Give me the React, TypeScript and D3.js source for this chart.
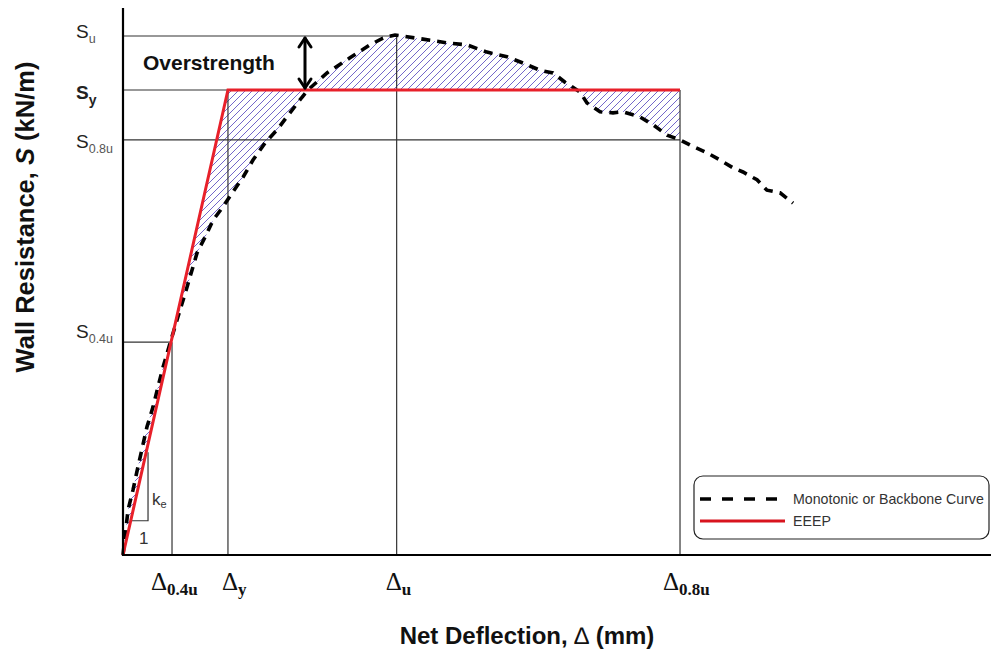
import React from "react";
import * as d3 from "d3";

// ---- data (Δ in mm, S in kN/m) ----
const curveDelta = [0, 0.58, 1.15, 1.73, 2.77, 3.46, 4.04, 4.62, 5.43, 6.35, 7.39, 8.55, 9.7, 10.39, 11.55, 12.59, 13.86, 15.01, 16.4, 17.78, 19.28, 20.67, 21.36, 23.56, 26.21, 28.52, 30.02, 31.41, 34.64, 37.76, 39.72, 42.03, 44.34, 46.19, 48.15, 49.65, 51.04, 52.77, 53.58, 55.08, 56.58, 57.74, 59.7, 61.2, 62.82, 64.32, 65.47, 67.44, 68.94, 70.44, 71.59, 73.21, 74.36, 75.87, 77.37];
const curveS = [0, 0.87, 1.25, 1.7, 2.47, 2.85, 3.24, 3.62, 4.08, 4.59, 5.16, 5.82, 6.2, 6.45, 6.71, 6.97, 7.28, 7.61, 7.94, 8.19, 8.52, 8.82, 8.96, 9.29, 9.58, 9.83, 9.96, 10.02, 9.94, 9.86, 9.83, 9.69, 9.6, 9.48, 9.34, 9.29, 9.11, 8.92, 8.71, 8.54, 8.52, 8.54, 8.44, 8.29, 8.09, 8.0, 7.9, 7.75, 7.61, 7.46, 7.38, 7.23, 7.03, 6.98, 6.78];

const levelNames = ["u", "y", "0.8u", "0.4u"];
const levelS = [10.0, 8.96, 8.0, 4.1];
const levelDelta = [31.6, 12.12, 64.32, 5.66];

const deltaTickLabels = ["0.4u", "y", "u", "0.8u"];
const deltaTickValues = [5.66, 12.12, 31.6, 64.32];

const eeepDelta = [0, 12.12, 64.32];
const eeepS = [0, 8.96, 8.96];

const keTriDelta = [1.04, 2.89];
const keTriS = [0.66, 1.98];

const legendLabels = ["Monotonic or Backbone Curve", "EEEP"];

const W = 991;
const H = 652;

export default function App() {
  const x = d3.scaleLinear().domain([0, 100]).range([123, 989]);
  const y = d3.scaleLinear().domain([0, 10.54]).range([555, 8]);

  const curvePts: [number, number][] = curveDelta.map((d, i) => [d, curveS[i]]);
  const eeepPts: [number, number][] = eeepDelta.map((d, i) => [d, eeepS[i]]);
  const line = d3
    .line<[number, number]>()
    .x((d) => x(d[0]))
    .y((d) => y(d[1]));

  const dEnd = levelDelta[2];
  const hatchPts: [number, number][] = [
    ...curvePts.filter((p) => p[0] <= dEnd + 1e-9),
    ...eeepPts.slice().reverse(),
  ];
  const hatchPath = line(hatchPts) + "Z";

  const arial = "Arial, 'Liberation Sans', Helvetica, sans-serif";
  const times = "'Times New Roman', 'Liberation Serif', serif";
  const gridStroke = "#333";

  const [Su, Sy, S08, S04] = levelS;
  const [Du, Dy, D08, D04] = levelDelta;
  const deltaOffsets = [-21, -6, -11, -17];

  return (
    <div style={{ position: "fixed", left: 0, top: 0, width: W, height: H, background: "#fff" }}>
      <svg width={W} height={H} viewBox={`0 0 ${W} ${H}`}>
        <defs>
          <pattern id="hatch" patternUnits="userSpaceOnUse" width={7} height={7}>
            <path d="M-1,1 l2,-2 M0,7 l7,-7 M6,8 l2,-2" stroke="#5a4cc0" strokeWidth={0.85} />
          </pattern>
        </defs>

        {/* hatched area between curve and EEEP */}
        <path d={hatchPath} fill="url(#hatch)" stroke="none" />

        {/* reference lines */}
        <g stroke={gridStroke} strokeWidth={1.2} fill="none">
          <line x1={x(0)} x2={x(Du)} y1={y(Su)} y2={y(Su)} />
          <line x1={x(0)} x2={x(Dy)} y1={y(Sy)} y2={y(Sy)} />
          <line x1={x(0)} x2={x(D08)} y1={y(S08)} y2={y(S08)} />
          <line x1={x(0)} x2={x(D04)} y1={y(S04)} y2={y(S04)} />
          <line x1={x(D04)} x2={x(D04)} y1={y(0)} y2={y(S04)} />
          <line x1={x(Dy)} x2={x(Dy)} y1={y(0)} y2={y(Sy)} />
          <line x1={x(Du)} x2={x(Du)} y1={y(0)} y2={y(Su)} />
          <line x1={x(D08)} x2={x(D08)} y1={y(0)} y2={y(Sy)} />
          {/* ke triangle */}
          <polyline
            points={`${x(keTriDelta[0])},${y(keTriS[0])} ${x(keTriDelta[1])},${y(keTriS[0])} ${x(keTriDelta[1])},${y(keTriS[1])}`}
          />
        </g>

        {/* curve */}
        <path d={line(curvePts) || ""} fill="none" stroke="#000" strokeWidth={3.6} strokeDasharray="9 7" />
        {/* EEEP */}
        <path d={line(eeepPts) || ""} fill="none" stroke="#e8202a" strokeWidth={3} strokeLinejoin="miter" />

        {/* axes */}
        <line x1={x(0)} x2={x(0)} y1={y(0) + 1} y2={y(10.54)} stroke="#000" strokeWidth={2.2} />
        <line x1={x(0) - 1} x2={W} y1={y(0)} y2={y(0)} stroke="#000" strokeWidth={2.2} />

        {/* overstrength arrow */}
        <g stroke="#000" strokeWidth={3} fill="none" strokeLinecap="round" strokeLinejoin="round">
          <line x1={305} x2={305} y1={y(Su) + 2} y2={y(Sy) - 2} />
          <polyline points={`${299},${y(Su) + 11} ${305},${y(Su) + 2} ${311},${y(Su) + 11}`} />
          <polyline points={`${299},${y(Sy) - 11} ${305},${y(Sy) - 2} ${311},${y(Sy) - 11}`} />
        </g>
        <text x={143} y={70} fontFamily={arial} fontWeight="bold" fontSize={21} fill="#111">
          Overstrength
        </text>

        {/* S level labels */}
        {levelNames.map((n, i) => {
          const bold = n === "y";
          const yy = y(levelS[i]);
          const base = i === 0 ? yy + 2 : i === 1 ? yy + 9 : i === 2 ? yy + 8 : yy - 4;
          return (
            <text key={n} x={76} y={base} fontFamily={arial} fontSize={19} fill="#222" fontWeight={bold ? "bold" : "normal"}>
              S
              <tspan fontSize={bold ? 14 : 12.5} dy={bold ? 6 : 5} fill={bold ? "#222" : "#555"}>
                {n}
              </tspan>
            </text>
          );
        })}

        {/* Δ labels */}
        {deltaTickLabels.map((n, i) => {
          const xx = x(deltaTickValues[i]);
          return (
            <text key={n} x={xx + deltaOffsets[i]} y={590} fontFamily={times} fontSize={25} fill="#111">
              Δ
              <tspan fontSize={17} fontWeight="bold" dy={5}>
                {n}
              </tspan>
            </text>
          );
        })}

        {/* ke label */}
        <text x={152} y={505} fontFamily={arial} fontSize={17} fill="#333">
          k<tspan fontSize={11} dy={3}>e</tspan>
        </text>
        <text x={139} y={544} fontFamily={arial} fontSize={17} fill="#333">
          1
        </text>

        {/* axis titles */}
        <text x={527} y={644} textAnchor="middle" fontFamily={arial} fontWeight="bold" fontSize={24} fill="#111">
          Net Deflection, <tspan fontWeight="normal">∆</tspan> (mm)
        </text>
        <text
          transform={`translate(34,217) rotate(-90)`}
          textAnchor="middle"
          fontFamily={arial}
          fontWeight="bold"
          fontSize={25.5}
          fill="#111"
        >
          Wall Resistance, <tspan fontStyle="italic">S</tspan> (kN/m)
        </text>

        {/* legend */}
        <rect x={694} y={476} width={295} height={63} rx={9} ry={9} fill="#fff" stroke="#222" strokeWidth={1.2} />
        <line x1={700} x2={778} y1={499} y2={499} stroke="#000" strokeWidth={3.6} strokeDasharray="11 11" />
        <line x1={700} x2={785} y1={521} y2={521} stroke="#d8141e" strokeWidth={3} />
        <text x={793} y={504} fontFamily={arial} fontSize={14.2} fill="#333">
          {legendLabels[0]}
        </text>
        <text x={793} y={526} fontFamily={arial} fontSize={14.2} fill="#333">
          {legendLabels[1]}
        </text>
      </svg>
    </div>
  );
}
